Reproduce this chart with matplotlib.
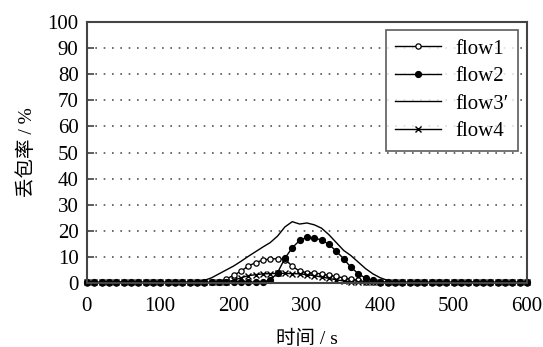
import matplotlib.pyplot as plt
import numpy as np

plt.rcParams['font.family'] = ['Liberation Serif', 'Noto Sans CJK SC', 'DejaVu Sans']

# time axis, one sample every 10 s
t = np.arange(0, 610, 10)

# loss rate (%)
flow1 = [0, 0, 0, 0, 0, 0, 0, 0, 0, 0, 0, 0, 0, 0, 0, 0, 0, 0.2,
         0.5, 1.5, 3, 4.5, 6.5, 7.8, 8.8, 9.2, 9.3, 9.0, 6.5, 4.5,
         4, 3.8, 3.5, 3, 2.5, 2, 1.5, 1, 0.5, 0.3, 0, 0, 0, 0, 0,
         0, 0, 0, 0, 0, 0, 0, 0, 0, 0, 0, 0, 0, 0, 0, 0]
flow2 = [0.3, 0.2, 0.3, 0.2, 0.3, 0.5, 0.3, 0.2, 0.3, 0.5, 0.3, 0.2, 0.3, 0.2, 0.3, 0.3, 0.2, 0.3,
         0.3, 0.2, 0.5, 0.3, 0.5, 0.3, 0.5, 1, 4, 9.5, 13.5, 16.3,
         17.5, 17.2, 16.5, 14.8, 12.2, 9.3, 6, 3.6, 1.8, 1, 0.5, 0.3, 0.2, 0.3, 0.2,
         0.3, 0.2, 0.3, 0.3, 0.2, 0.3, 0.3, 0.5, 0.3, 0.5, 0.3, 0.2, 0.3, 0.2, 0.3, 0.3]
flow3 = [0.2, 0.2, 0.2, 0.2, 0.2, 0.2, 0.2, 0.2, 0.2, 0.2, 0.2, 0.2, 0.2, 0.2, 0.3, 0.5, 1, 2,
         3.5, 5, 6.5, 8.3, 10.2, 12, 13.8, 15.5, 18, 21.5, 23.5, 22.6,
         23, 22.3, 21, 18.5, 15.5, 12.5, 10.5, 8, 5.5, 3.5, 2, 1, 0.3, 0.2, 0.2,
         0.2, 0.2, 0.2, 0.2, 0.2, 0.2, 0.2, 0.2, 0.2, 0.2, 0.2, 0.2, 0.2, 0.2, 0.2, 0.2]
flow4 = [0.5, 0.3, 0.2, 0.3, 0.2, 0.3, 0.2, 0.3, 0.2, 0.3, 0.2, 0.3, 0.2, 0.3, 0.2, 0.3, 0.2, 0.3,
         0.3, 0.5, 1, 2, 2.8, 3.2, 3.5, 3.6, 3.7, 3.7, 3.6, 3.5,
         3.2, 2.8, 2.3, 1.8, 1.2, 0.8, 0.4, 0.2, 0.3, 0.2, 0.3, 0.2, 0.3, 0.2, 0.3,
         0.2, 0.3, 0.2, 0.3, 0.2, 0.3, 0.2, 0.3, 0.2, 0.3, 0.2, 0.3, 0.2, 0.3, 0.2, 0.5]

fig = plt.figure(figsize=(5.43, 3.47), dpi=100)
ax = fig.add_axes([0.160, 0.1844, 0.8105, 0.7522])

ax.plot(t, flow1, color='black', lw=1, marker='o', ms=3.8, mfc='white', mew=0.9,
        label='flow1', clip_on=False)
ax.plot(t, flow2, color='black', lw=1, marker='o', ms=4.2, mfc='black',
        label='flow2', clip_on=False)
ax.plot(t, flow3, color='black', lw=1, label="flow3\u2032", clip_on=False)
ax.plot(t, flow4, color='black', lw=1, marker='x', ms=4, mew=1,
        label='flow4', clip_on=False)

ax.set_xlim(0, 600)
ax.set_ylim(0, 100)
ax.set_xticks(range(0, 601, 100))
ax.set_yticks(range(0, 101, 10))
for y in range(10, 100, 10):
    ax.axhline(y, color='#555555', lw=1.2, ls=(0, (1, 4)), zorder=0)

for s in ax.spines.values():
    s.set_color('#444444')
    s.set_linewidth(1.5)
ax.tick_params(axis='y', direction='in', length=5, width=1.2, color='#444444',
               labelsize=15, pad=6)
ax.tick_params(axis='x', length=0, labelsize=15, pad=10)

ax.set_xlabel('时间 / s', fontsize=14, labelpad=10)
ax.set_ylabel('丢包率 / %', fontsize=14, labelpad=8)

leg = ax.legend(loc='upper right', bbox_to_anchor=(0.98, 0.97), borderaxespad=0,
                fontsize=15, frameon=True, fancybox=False, edgecolor='#333333',
                handlelength=2.2, handletextpad=0.7, labelspacing=0.38, borderpad=0.45)
leg.get_frame().set_linewidth(1.2)

fig.savefig('out.png', dpi=100)
